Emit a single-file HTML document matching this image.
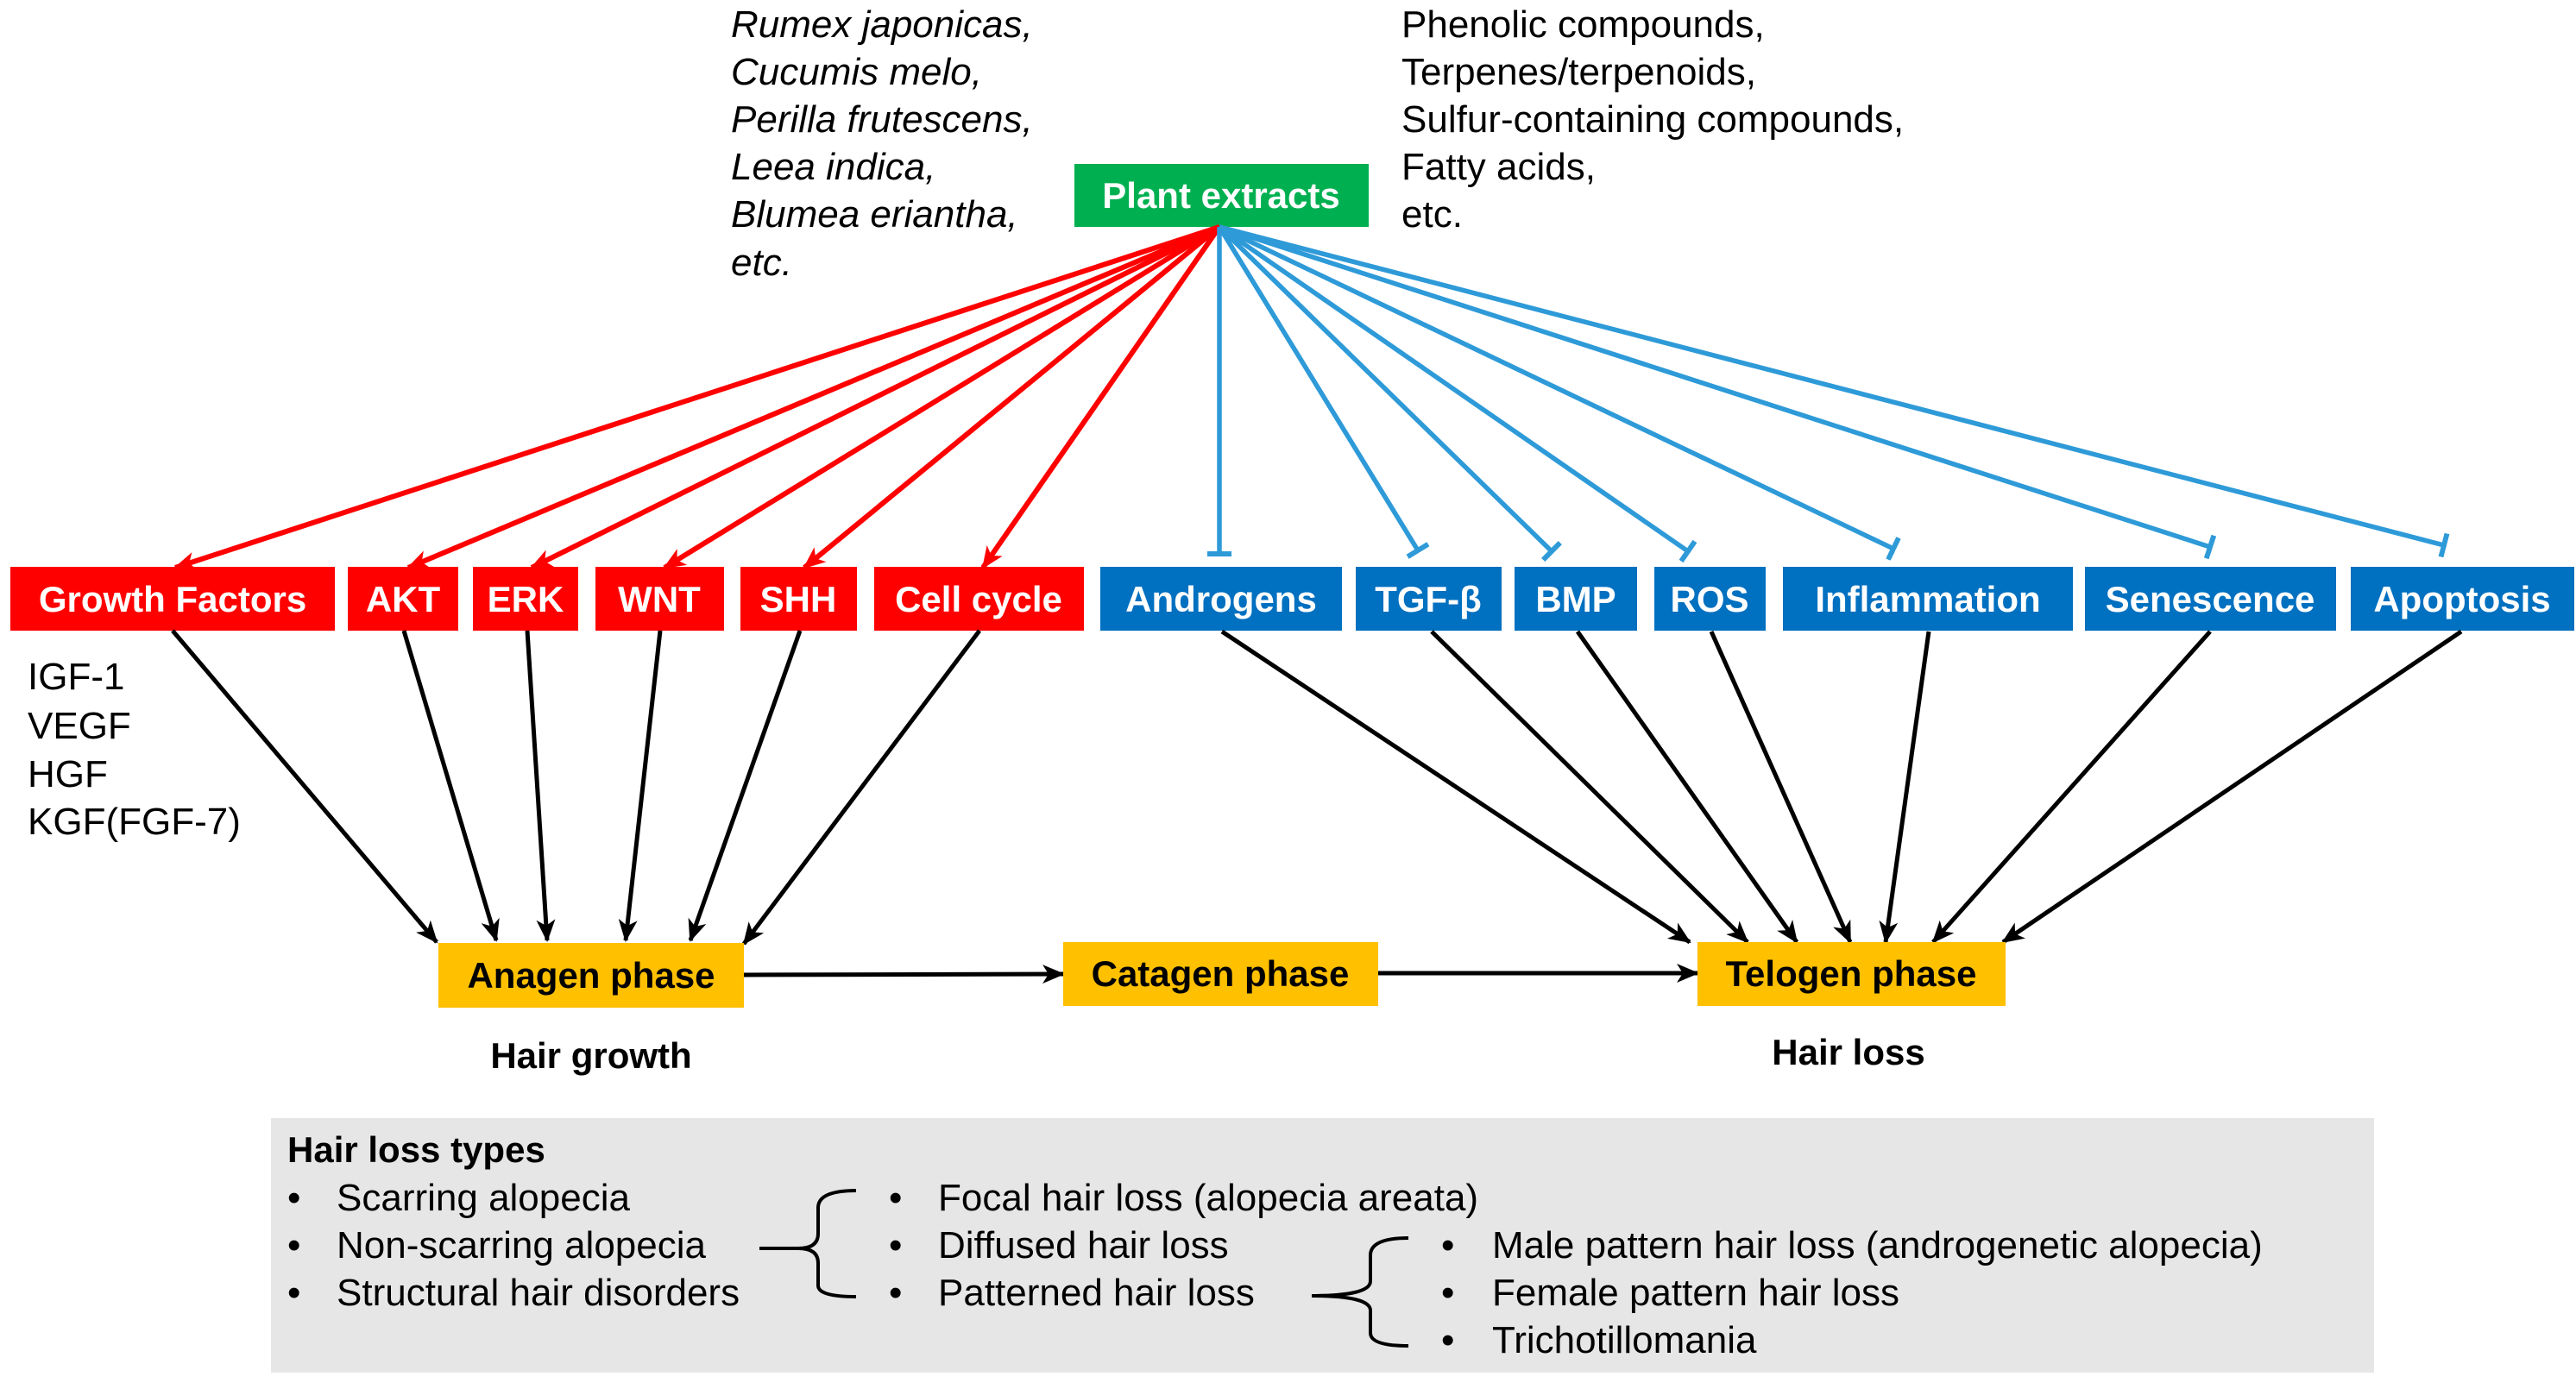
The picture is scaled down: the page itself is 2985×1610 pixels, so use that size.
<!DOCTYPE html>
<html><head><meta charset="utf-8"><style>
html,body{margin:0;padding:0;background:#fff;}
svg{display:block;}
text{font-family:"Liberation Sans",sans-serif;}
.bx{font-size:42px;font-weight:bold;fill:#fff;text-anchor:middle;}
.ph{font-size:42px;font-weight:bold;fill:#000;text-anchor:middle;}
.t{font-size:44px;fill:#000;}
.it{font-size:44px;fill:#000;font-style:italic;}
</style></head><body>
<svg width="2985" height="1610" viewBox="0 0 2985 1610" xmlns="http://www.w3.org/2000/svg">
<defs>
<marker id="ar" markerUnits="userSpaceOnUse" markerWidth="26" markerHeight="22" refX="24" refY="11" orient="auto"><path d="M0,0 L26,11 L0,22 L7,11 Z" fill="#f00"/></marker>
<marker id="ab" markerUnits="userSpaceOnUse" markerWidth="26" markerHeight="22" refX="24" refY="11" orient="auto"><path d="M0,0 L26,11 L0,22 L7,11 Z" fill="#000"/></marker>
<marker id="tb" markerUnits="userSpaceOnUse" markerWidth="6" markerHeight="28" refX="3" refY="14" orient="auto"><rect x="0" y="0" width="6" height="28" fill="#2e9ad8"/></marker>
</defs>

<g class="it">
<text x="847" y="43">Rumex japonicas,</text>
<text x="847" y="98">Cucumis melo,</text>
<text x="847" y="153">Perilla frutescens,</text>
<text x="847" y="208">Leea indica,</text>
<text x="847" y="263">Blumea eriantha,</text>
<text x="847" y="319">etc.</text>
</g>
<g class="t">
<text x="1624" y="43">Phenolic compounds,</text>
<text x="1624" y="98">Terpenes/terpenoids,</text>
<text x="1624" y="153">Sulfur-containing compounds,</text>
<text x="1624" y="208">Fatty acids,</text>
<text x="1624" y="263">etc.</text>
</g>

<rect x="1245" y="190" width="341" height="73" fill="#00b050"/>
<text class="bx" x="1415" y="241">Plant extracts</text>

<g stroke="#f00" stroke-width="6" marker-end="url(#ar)">
<line x1="1413" y1="263" x2="203" y2="658"/>
<line x1="1413" y1="263" x2="473" y2="658"/>
<line x1="1413" y1="263" x2="616" y2="658"/>
<line x1="1413" y1="263" x2="770" y2="658"/>
<line x1="1413" y1="263" x2="932" y2="658"/>
<line x1="1413" y1="263" x2="1139" y2="658"/>
</g>
<g stroke="#2e9ad8" stroke-width="5.5" marker-end="url(#tb)">
<line x1="1413" y1="263" x2="1413" y2="642"/>
<line x1="1413" y1="263" x2="1643" y2="638"/>
<line x1="1413" y1="263" x2="1798" y2="639"/>
<line x1="1413" y1="263" x2="1956" y2="639"/>
<line x1="1413" y1="263" x2="2194" y2="636"/>
<line x1="1413" y1="263" x2="2561" y2="634"/>
<line x1="1413" y1="263" x2="2832" y2="632"/>
</g>

<g fill="#ff0000">
<rect x="12" y="657" width="376" height="74"/>
<rect x="403" y="657" width="128" height="74"/>
<rect x="548" y="657" width="122" height="74"/>
<rect x="690" y="657" width="149" height="74"/>
<rect x="858" y="657" width="135" height="74"/>
<rect x="1013" y="657" width="243" height="74"/>
</g>
<g fill="#0070c0">
<rect x="1275" y="657" width="280" height="74"/>
<rect x="1571" y="657" width="169" height="74"/>
<rect x="1755" y="657" width="142" height="74"/>
<rect x="1917" y="657" width="129" height="74"/>
<rect x="2066" y="657" width="336" height="74"/>
<rect x="2416" y="657" width="291" height="74"/>
<rect x="2724" y="657" width="259" height="74"/>
</g>
<g class="bx">
<text x="200" y="709">Growth Factors</text>
<text x="467" y="709">AKT</text>
<text x="609" y="709">ERK</text>
<text x="764" y="709">WNT</text>
<text x="925" y="709">SHH</text>
<text x="1134" y="709">Cell cycle</text>
<text x="1415" y="709">Androgens</text>
<text x="1655" y="709">TGF-β</text>
<text x="1826" y="709">BMP</text>
<text x="1981" y="709">ROS</text>
<text x="2234" y="709">Inflammation</text>
<text x="2561" y="709">Senescence</text>
<text x="2853" y="709">Apoptosis</text>
</g>

<g class="t">
<text x="32" y="799">IGF-1</text>
<text x="32" y="856">VEGF</text>
<text x="32" y="912">HGF</text>
<text x="32" y="967">KGF(FGF-7)</text>
</g>

<g stroke="#000" stroke-width="5" marker-end="url(#ab)">
<line x1="200" y1="731" x2="506" y2="1092"/>
<line x1="468" y1="731" x2="575" y2="1090"/>
<line x1="611" y1="731" x2="634" y2="1090"/>
<line x1="765" y1="731" x2="725" y2="1090"/>
<line x1="927" y1="731" x2="800" y2="1090"/>
<line x1="1135" y1="731" x2="862" y2="1094"/>
<line x1="1416" y1="732" x2="1958" y2="1092"/>
<line x1="1659" y1="732" x2="2025" y2="1092"/>
<line x1="1828" y1="732" x2="2082" y2="1092"/>
<line x1="1983" y1="732" x2="2144" y2="1092"/>
<line x1="2235" y1="732" x2="2185" y2="1092"/>
<line x1="2561" y1="732" x2="2240" y2="1092"/>
<line x1="2852" y1="732" x2="2321" y2="1092"/>
<line x1="862" y1="1130" x2="1232" y2="1129"/>
<line x1="1597" y1="1128" x2="1967" y2="1128"/>
</g>

<g fill="#ffc000">
<rect x="508" y="1093" width="354" height="75"/>
<rect x="1232" y="1092" width="365" height="74"/>
<rect x="1967" y="1092" width="357" height="74"/>
</g>
<g class="ph">
<text x="685" y="1145">Anagen phase</text>
<text x="1414" y="1143">Catagen phase</text>
<text x="2145" y="1143">Telogen phase</text>
<text x="685" y="1238">Hair growth</text>
<text x="2142" y="1234">Hair loss</text>
</g>

<rect x="314" y="1296" width="2437" height="295" fill="#e7e6e6"/>
<text x="333" y="1347" style="font-size:42px;font-weight:bold">Hair loss types</text>
<g class="t">
<text x="333" y="1403">•</text><text x="390" y="1403">Scarring alopecia</text>
<text x="333" y="1458">•</text><text x="390" y="1458">Non-scarring alopecia</text>
<text x="333" y="1513">•</text><text x="390" y="1513">Structural hair disorders</text>
<text x="1030" y="1403">•</text><text x="1087" y="1403">Focal hair loss (alopecia areata)</text>
<text x="1030" y="1458">•</text><text x="1087" y="1458">Diffused hair loss</text>
<text x="1030" y="1513">•</text><text x="1087" y="1513">Patterned hair loss</text>
<text x="1670" y="1458">•</text><text x="1729" y="1458">Male pattern hair loss (androgenetic alopecia)</text>
<text x="1670" y="1513">•</text><text x="1729" y="1513">Female pattern hair loss</text>
<text x="1670" y="1568">•</text><text x="1729" y="1568">Trichotillomania</text>
</g>
<g fill="none" stroke="#000" stroke-width="4">
<path d="M992,1380 Q948,1380 948,1400 L948,1430 Q948,1447 925,1447 Q948,1447 948,1464 L948,1490 Q948,1503 992,1503"/>
<path d="M1632,1435 Q1588,1435 1588,1455 L1588,1485 Q1588,1502 1520,1502 Q1588,1502 1588,1519 L1588,1545 Q1588,1560 1632,1560"/>
<path d="M880,1447 L925,1447"/>
</g>
</svg>
</body></html>
